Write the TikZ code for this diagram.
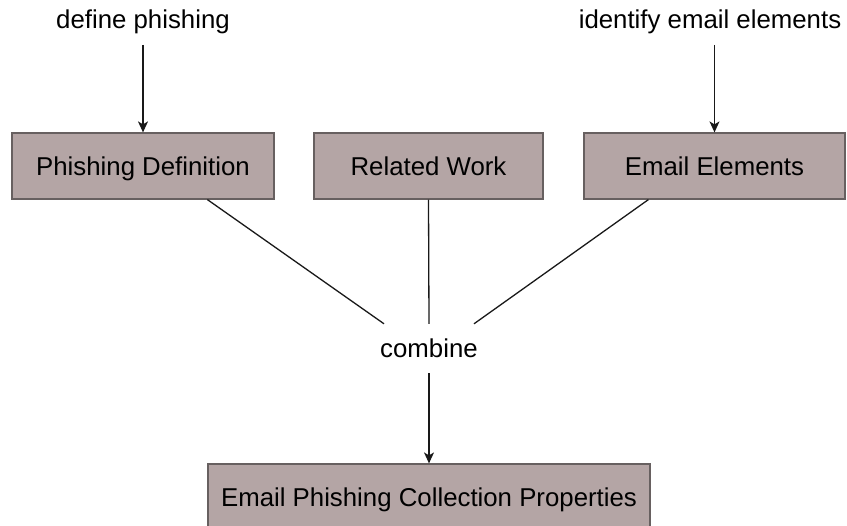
\documentclass[tikz,border=0pt]{standalone}
\usepackage{fontspec}
\setmainfont{Liberation Sans}
\usetikzlibrary{arrows.meta,calc}

\definecolor{boxfill}{HTML}{B4A5A5}
\definecolor{boxline}{HTML}{676060}

\tikzset{
  stepbox/.style={draw=boxline, fill=boxfill, line width=1.2pt,
    minimum height=66pt, inner sep=0pt, text height=18.8pt, text depth=0pt,
    font=\fontsize{25.8}{31}\selectfont},
  lbl/.style={inner sep=0pt, font=\fontsize{25.8}{31}\selectfont},
  link/.style={line width=1.3pt, draw=black!90},
  flow/.style={link, -{Stealth[length=11pt,width=10pt,inset=3pt]}}
}

\begin{document}
\begin{tikzpicture}[x=1pt,y=-1pt]
  \useasboundingbox (0,0) rectangle (847,526);

  % source boxes
  \node[stepbox, minimum width=262pt] (pd) at (143,166) {Phishing Definition};
  \node[stepbox, minimum width=229pt] (rw) at (428.5,166) {Related Work};
  \node[stepbox, minimum width=261pt] (ee) at (714.5,166) {Email Elements};

  % result box
  \node[stepbox, minimum width=442pt] (out) at (429,497) {Email Phishing Collection Properties};

  % combining step
  \node[lbl, minimum height=49pt, text height=18.8pt, text depth=0pt]
    (comb) at (429,348.5) {combine};
  \coordinate (cl) at ($(comb.north)+(-45,0)$);
  \coordinate (cr) at ($(comb.north)+(45,0)$);

  % inputs
  \node[lbl, anchor=base] (dp) at (143,29) {define phishing};
  \node[lbl, anchor=base] (ie) at (710,29) {identify email elements};
  \coordinate (dps) at (143,45);
  \coordinate (ies) at (714.5,45);

  \draw[flow] (dps) -- (pd.north);
  \draw[flow] (ies) -- (ee.north);

  % merge into the combine step
  \draw[link] ($(pd.south west)+(196,0)$) -- (cl);
  \draw[link] (rw.south) -- (comb.north);
  \draw[link] ($(ee.south west)+(65,0)$) -- (cr);

  \draw[flow] (comb.south) -- (out.north);
\end{tikzpicture}
\end{document}
